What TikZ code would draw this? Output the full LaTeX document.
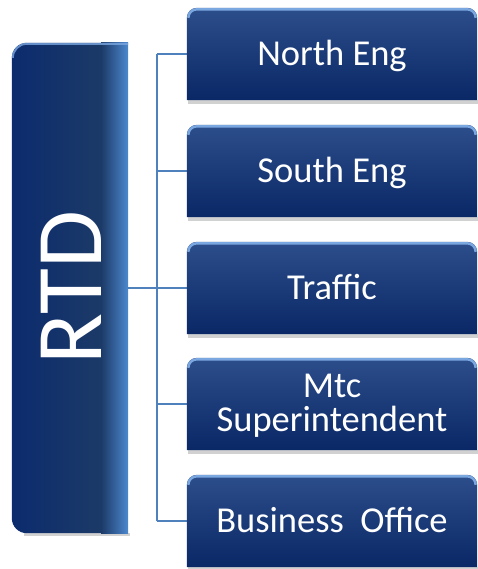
\documentclass[tikz,border=0pt]{standalone}
\usepackage{fontspec}
\setmainfont{Carlito}
\pgfdeclarelayer{background}
\pgfsetlayers{background,main}
\definecolor{boxtop}{HTML}{2C4E8A}
\definecolor{boxbot}{HTML}{0A2766}
\definecolor{hlblue}{HTML}{7BA7E0}
\definecolor{rtdL}{HTML}{0B2B6E}
\definecolor{rtdM}{HTML}{1C3A67}
\definecolor{rtdR}{HTML}{4C88CF}
\definecolor{connblue}{HTML}{4F81BD}
\newcommand\panel[1]{%
  \fill[black,opacity=0.18] ([xshift=1pt,yshift=-4pt]#1.south west) rectangle ([xshift=2pt]#1.south east);
  \shade[top color=boxtop,bottom color=boxbot] (#1.south west) -- ([yshift=-10pt]#1.north west)
    arc[start angle=180,end angle=90,radius=10pt] -- ([xshift=-10pt]#1.north east)
    arc[start angle=90,end angle=0,radius=10pt] -- (#1.south east) -- cycle;
  \draw[hlblue,line width=2.5pt] ([xshift=1.5pt,yshift=-10pt]#1.north west)
    arc[start angle=180,end angle=90,radius=8.5pt] -- ([xshift=-10pt,yshift=-1.5pt]#1.north east)
    arc[start angle=90,end angle=0,radius=8.5pt];
}
\begin{document}
\begin{tikzpicture}[x=1pt,y=1pt,
  box/.style={minimum width=290pt,minimum height=92pt,inner sep=0pt,text=white,
    font=\fontsize{36.5}{34}\selectfont,align=center,text height=23.5pt,text depth=0pt},
  rtdbox/.style={minimum width=116pt,minimum height=490pt,inner sep=0pt},
  bigtext/.style={text=white,font=\fontsize{94}{94}\selectfont,inner sep=0pt},
  conn/.style={draw=connblue,line width=2pt}]
\useasboundingbox (0,0) rectangle (478,569);
\node[rtdbox] (rtd) at (70,281) {};
\node[rotate=90,bigtext,text height=60pt,text depth=0pt] (rtdlabel) at ([xshift=1pt]rtd.center) {RTD};
\node[box] (north) at (332,515) {North Eng};
\node[box] (south) at (332,398) {South Eng};
\node[box] (traffic) at (332,281) {Traffic};
\node[box,text height=55pt] (mtc) at (332,165) {Mtc\\Superintendent};
\node[box] (biz) at (332,48) {Business\ \ Office};
\coordinate (trunk) at (157,281);
\begin{pgfonlayer}{background}
  % connectors
  \draw[conn] (rtd.east) -- (traffic.west);
  \draw[conn] (trunk |- north.west) -- (trunk |- biz.west);
  \foreach \n in {north,south,mtc,biz} {\draw[conn] (trunk |- \n.west) -- (\n.west);}
  % RTD panel
  \fill[black,opacity=0.18] ([xshift=12pt,yshift=-3pt]rtd.south west) rectangle ([xshift=2pt]rtd.south east);
  \shade[left color=rtdL,right color=rtdM] ([xshift=15pt]rtd.south west)
    arc[start angle=270,end angle=180,radius=15pt] -- ([yshift=-15pt]rtd.north west)
    arc[start angle=180,end angle=90,radius=15pt] -- ([xshift=-27pt]rtd.north east)
    -- ([xshift=-27pt]rtd.south east) -- cycle;
  \shade[left color=rtdM,right color=rtdR] ([xshift=-27.2pt]rtd.south east) rectangle (rtd.north east);
  \draw[hlblue,line width=2pt,opacity=0.8] ([xshift=1pt,yshift=-15pt]rtd.north west)
    arc[start angle=180,end angle=90,radius=14pt] -- ([yshift=-1pt]rtd.north east);
  % boxes
  \panel{north}
  \panel{south}
  \panel{traffic}
  \panel{mtc}
  \panel{biz}
\end{pgfonlayer}
\end{tikzpicture}
\end{document}
